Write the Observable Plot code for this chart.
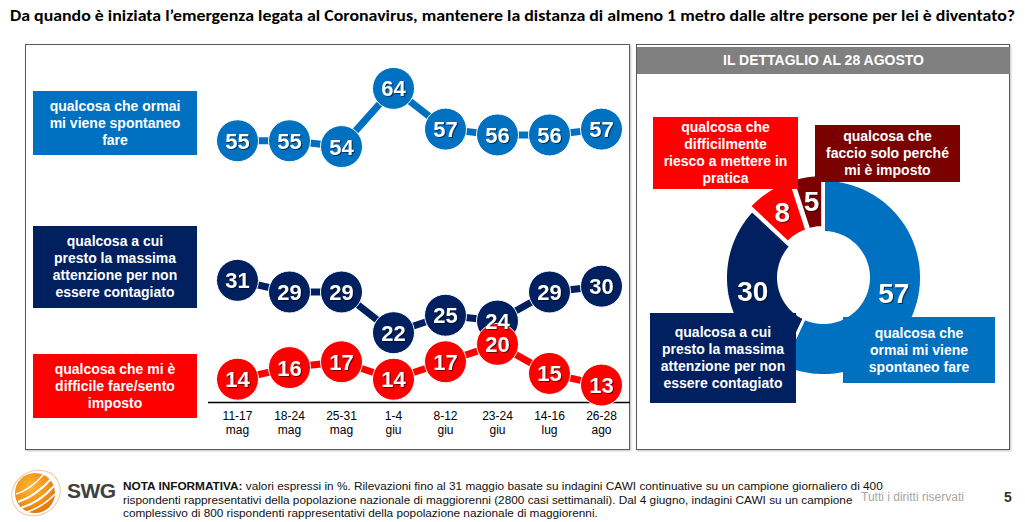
<!DOCTYPE html>
<html><head><meta charset="utf-8">
<script src="https://cdn.jsdelivr.net/npm/d3@7"></script>
<script src="https://cdn.jsdelivr.net/npm/@observablehq/plot@0.6"></script>
<style>
body{margin:0;width:1025px;height:522px;position:relative;overflow:hidden;background:#fff;font-family:"Liberation Sans",Arial,sans-serif;}
.abs{position:absolute;}
.title{left:10px;top:5px;font-family:Carlito,"Liberation Sans Narrow","Liberation Sans",sans-serif;font-weight:bold;font-size:16.5px;white-space:nowrap;color:#000;transform-origin:0 0;}
.panel{position:absolute;border:1.5px solid #5a5a5a;box-shadow:1px 1px 2px rgba(0,0,0,0.25);background:#fff;}
.box{position:absolute;color:#fff;font-weight:bold;font-size:14px;line-height:17px;text-align:center;display:flex;align-items:center;justify-content:center;white-space:nowrap;}
.hdr{position:absolute;left:637px;top:47px;width:373px;height:27px;background:#808080;color:#fff;font-weight:bold;font-size:14px;line-height:27px;text-align:center;}
.note{left:123px;top:480px;font-family:"Liberation Sans Narrow","Liberation Sans",sans-serif;font-size:11.8px;line-height:13.6px;color:#111;white-space:nowrap;}
.rights{left:861px;top:490px;font-family:"Liberation Sans",Arial,sans-serif;font-size:12px;color:#a6a6a6;white-space:nowrap;}
.page{left:1004px;top:489px;font-weight:bold;font-size:14px;color:#333;}
.swg{left:67px;top:479px;font-weight:bold;font-size:21px;color:#404040;letter-spacing:-0.5px;}
#left g[aria-label="text"], #donut g[aria-label="text"]{filter:drop-shadow(1px 1px 0.6px rgba(0,0,0,0.55));}
</style></head>
<body>
<div id="title" class="abs title">Da quando è iniziata l’emergenza legata al Coronavirus, mantenere la distanza di almeno 1 metro dalle altre persone per lei è diventato?</div>
<div class="panel" style="left:25px;top:44px;width:603px;height:404px;"></div>
<div class="panel" style="left:636px;top:44px;width:372px;height:404px;"></div>
<div class="hdr">IL DETTAGLIO AL 28 AGOSTO</div>
<div id="left" class="abs" style="left:208px;top:44px;"></div>
<div id="donut" class="abs" style="left:636px;top:75px;"></div>
<div id="boxes"></div>
<svg class="abs" style="left:8px;top:466px;" width="56" height="54" viewBox="0 0 56 54">
  <defs><radialGradient id="og" cx="0.4" cy="0.35" r="0.7"><stop offset="0" stop-color="#fbb73a"/><stop offset="0.6" stop-color="#f39317"/><stop offset="1" stop-color="#e0700a"/></radialGradient></defs>
  <ellipse cx="28" cy="27" rx="25" ry="22" fill="none" stroke="#f2c8a0" stroke-width="1" transform="rotate(-30 28 27)"/>
  <circle cx="27" cy="27" r="20" fill="url(#og)"/>
  <path d="M10 36 Q28 30 44 12" stroke="#fff" stroke-width="2" fill="none"/>
  <path d="M13 42 Q32 36 46 20" stroke="#fff" stroke-width="2" fill="none"/>
  <path d="M19 46 Q36 40 47 28" stroke="#fff" stroke-width="1.6" fill="none"/>
  <path d="M8 28 Q22 24 36 8" stroke="#fff" stroke-width="1.4" fill="none"/>
</svg>
<div class="abs swg">SWG</div>
<div class="abs note"><b>NOTA INFORMATIVA:</b> valori espressi in %. Rilevazioni fino al 31 maggio basate su indagini CAWI continuative su un campione giornaliero di 400<br>rispondenti rappresentativi della popolazione nazionale di maggiorenni (2800 casi settimanali). Dal 4 giugno, indagini CAWI su un campione<br>complessivo di 800 rispondenti rappresentativi della popolazione nazionale di maggiorenni.</div>
<div class="abs rights">Tutti i diritti riservati</div>
<div class="abs page">5</div>
<script>
// ---- data ----
const weeks = ["11-17 mag","18-24 mag","25-31 mag","1-4 giu","8-12 giu","23-24 giu","14-16 lug","26-28 ago"];
const seriesNames = ["qualcosa che ormai mi viene spontaneo fare","qualcosa a cui presto la massima attenzione per non essere contagiato","qualcosa che mi è difficile fare/sento imposto"];
const spontaneo = [55,55,54,64,57,56,56,57];
const attenzione = [31,29,29,22,25,24,29,30];
const difficile = [14,16,17,14,17,20,15,13];
const seriesColors = ["#0070C0","#002060","#FF0000"];
const legendLines = [["qualcosa che ormai","mi viene spontaneo","fare"],["qualcosa a cui","presto la massima","attenzione per non","essere contagiato"],["qualcosa che mi è","difficile fare/sento","imposto"]];

const donutNames = ["spontaneo","attenzione","difficilmente","imposto"];
const donutValues = [57,30,8,5];
const donutColors = ["#0070C0","#002060","#FF0000","#7B0000"];
const donutLines = [["qualcosa che","ormai mi viene","spontaneo fare"],["qualcosa a cui","presto la massima","attenzione per non","essere contagiato"],["qualcosa che","difficilmente","riesco a mettere in","pratica"],["qualcosa che","faccio solo perché","mi è imposto"]];

// ---- title fit ----
const titleEl = document.getElementById("title");
titleEl.style.transform = `scaleX(${1005 / titleEl.getBoundingClientRect().width})`;

// ---- left line chart ----
const allValues = [spontaneo, attenzione, difficile];
const rows = [];
allValues.forEach((vals, i) => vals.forEach((v, j) => rows.push({serie: seriesNames[i], week: weeks[j], value: v, color: seriesColors[i]})));

const left = Plot.plot({
  width: 422, height: 406,
  marginLeft: 0, marginRight: 0, marginTop: 9, marginBottom: 48,
  style: {fontFamily: '"Liberation Sans", Arial, sans-serif', overflow: "visible", background: "transparent"},
  x: {type: "point", domain: weeks, padding: 0.5, align: 0.5, label: null},
  y: {domain: [10, 70], axis: null},
  color: {type: "identity"},
  marks: [
    Plot.ruleY([10], {stroke: "#000", strokeWidth: 1.5}),
    Plot.axisX({tickSize: 0, tickPadding: 8, fontSize: 12, lineHeight: 1.15, fill: "#000", label: null, tickFormat: d => d.replace(" ", "\n")}),
    Plot.line(rows, {x: "week", y: "value", z: "serie", stroke: "color", strokeWidth: 7}),
    Plot.dot(rows, {x: "week", y: "value", r: 21, fill: "color", stroke: "#fff", strokeWidth: 1}),
    Plot.text(rows, {x: "week", y: "value", text: d => String(d.value), fill: "#fff", fontSize: 22, fontWeight: "bold", dy: 1})
  ]
});
document.getElementById("left").appendChild(left);

// ---- donut ----
const pie = d3.pie().sort(null).value(d => d)(donutValues);
const R = 98, r0 = 45, explode = [0, 0, 5, 5];
const poly = [];
const labelPts = [];
pie.forEach((p, i) => {
  const mid = (p.startAngle + p.endAngle) / 2;
  const ox = explode[i] * Math.sin(mid), oy = -explode[i] * Math.cos(mid);
  const n = Math.max(4, Math.ceil((p.endAngle - p.startAngle) / 0.03));
  for (let k = 0; k <= n; k++) {
    const a = p.startAngle + (p.endAngle - p.startAngle) * k / n;
    poly.push({slice: donutNames[i], color: donutColors[i], x: ox + R * Math.sin(a), y: oy - R * Math.cos(a)});
  }
  for (let k = n; k >= 0; k--) {
    const a = p.startAngle + (p.endAngle - p.startAngle) * k / n;
    poly.push({slice: donutNames[i], color: donutColors[i], x: ox + r0 * Math.sin(a), y: oy - r0 * Math.cos(a)});
  }
  labelPts.push({x: ox + 72 * Math.sin(mid), y: oy - 72 * Math.cos(mid), text: String(donutValues[i])});
});

const donut = Plot.plot({
  width: 374, height: 375,
  margin: 0,
  style: {fontFamily: '"Liberation Sans", Arial, sans-serif', overflow: "visible", background: "transparent"},
  x: {domain: [-187, 187], axis: null},
  y: {domain: [-202, 173], reverse: true, axis: null},
  color: {type: "identity"},
  marks: [
    Plot.line(poly, {x: "x", y: "y", z: "slice", fill: "color", stroke: "#fff", strokeWidth: 3, curve: "linear-closed"}),
    Plot.text(labelPts, {x: "x", y: "y", text: "text", fill: "#fff", fontSize: 28, fontWeight: "bold", dy: 1})
  ]
});
document.getElementById("donut").appendChild(donut);

// ---- text boxes ----
const boxesEl = document.getElementById("boxes");
function addBox(lines, color, l, t, w, h) {
  const d = document.createElement("div");
  d.className = "box";
  d.style.cssText = `left:${l}px;top:${t}px;width:${w}px;height:${h}px;background:${color};`;
  d.innerHTML = "<div>" + lines.join("<br>") + "</div>";
  boxesEl.appendChild(d);
}
addBox(legendLines[0], seriesColors[0], 33, 91, 164, 64);
addBox(legendLines[1], seriesColors[1], 33, 226, 164, 82);
addBox(legendLines[2], seriesColors[2], 33, 354, 164, 64);
addBox(donutLines[2], donutColors[2], 653, 117, 145, 72);
addBox(donutLines[3], donutColors[3], 815, 125, 145, 57);
addBox(donutLines[1], donutColors[1], 650, 313, 146, 90);
addBox(donutLines[0], donutColors[0], 843, 317, 152, 66);
</script>
</body></html>
